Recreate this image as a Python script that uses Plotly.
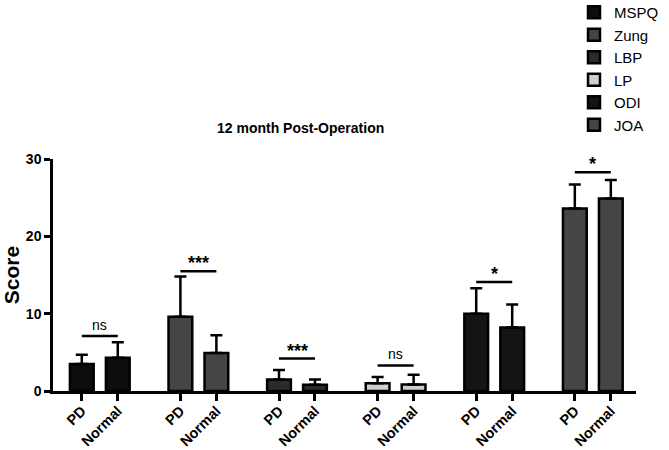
import plotly.graph_objects as go

measures = ["MSPQ", "Zung", "LBP", "LP", "ODI", "JOA"]
groups = ["PD", "Normal"]
means = {
    "MSPQ": [3.5, 4.3],
    "Zung": [9.6, 4.9],
    "LBP": [1.5, 0.8],
    "LP": [1.0, 0.85],
    "ODI": [10.0, 8.2],
    "JOA": [23.6, 24.9],
}
errors = {
    "MSPQ": [1.2, 2.0],
    "Zung": [5.2, 2.3],
    "LBP": [1.2, 0.7],
    "LP": [0.8, 1.25],
    "ODI": [3.3, 3.0],
    "JOA": [3.1, 2.4],
}
sig_labels = ["ns", "***", "***", "ns", "*", "*"]
sig_heights = [7.1, 15.5, 4.2, 3.3, 14.1, 28.3]
colors = ["#0d0d0d", "#454545", "#2b2b2b", "#cfcfcf", "#141414", "#454545"]

GROUP_STEP = 2.74
FONT = "Liberation Sans, Arial, sans-serif"

W, H = 669, 450
ML, MR, MT, MB = 53, 33, 159, 59
PW, PH = W - ML - MR, H - MT - MB

fig = go.Figure()
tickvals, ticktext = [], []
for i, m in enumerate(measures):
    xs = [i * GROUP_STEP + j for j in range(len(groups))]
    tickvals += xs
    ticktext += ["<b>%s</b>" % g for g in groups]
    fig.add_trace(go.Bar(
        x=xs, y=means[m], name=m, width=0.66,
        marker=dict(color=colors[i], line=dict(color="black", width=2.5)),
        error_y=dict(type="data", array=errors[m], arrayminus=[0, 0],
                     symmetric=False, color="black", thickness=2.5, width=6),
        legendgroup=m,
    ))
    fig.add_shape(type="line", x0=xs[0], x1=xs[1], y0=sig_heights[i], y1=sig_heights[i],
                  xref="x", yref="y", line=dict(color="black", width=2.5))
    lab = sig_labels[i]
    fig.add_annotation(x=(xs[0] + xs[1]) / 2, y=sig_heights[i], xref="x", yref="y",
                       text=lab if lab == "ns" else "<b>%s</b>" % lab,
                       showarrow=False, yanchor="bottom", yshift=1 if lab == "ns" else -4,
                       font=dict(family=FONT, size=14 if lab == "ns" else 18, color="black"))

fig.add_annotation(x=(300 - ML) / PW, y=(H - MB - 128) / PH, xref="paper", yref="paper",
                   xanchor="center", yanchor="middle", showarrow=False,
                   text="<b>12 month Post-Operation</b>",
                   font=dict(family=FONT, size=14, color="black"))

fig.update_layout(
    width=W, height=H,
    margin=dict(l=ML, r=MR, t=MT, b=MB, autoexpand=False),
    plot_bgcolor="white", paper_bgcolor="white",
    barmode="overlay",
    font=dict(family=FONT, color="black"),
    legend=dict(xref="paper", yref="paper", x=(574 - ML) / PW, y=(H - MB + 4) / PH,
                xanchor="left", yanchor="top", font=dict(size=15, family=FONT),
                tracegroupgap=0, traceorder="grouped", itemwidth=30,
                bgcolor="rgba(0,0,0,0)"),
    xaxis=dict(range=[-0.8, 5 * GROUP_STEP + 1 + 0.7], tickvals=tickvals, ticktext=ticktext,
               tickangle=-45, showline=True, linecolor="black", linewidth=2.5,
               ticks="outside", ticklen=7, tickwidth=2.5, tickcolor="black",
               ticklabelstandoff=-4,
               tickfont=dict(size=14.5, family=FONT), showgrid=False, zeroline=False),
    yaxis=dict(range=[0, 30], tickvals=[0, 10, 20, 30], ticktext=["<b>0</b>", "<b>10</b>", "<b>20</b>", "<b>30</b>"],
               showline=True, linecolor="black", linewidth=2.5,
               ticks="outside", ticklen=6, tickwidth=2.5, tickcolor="black",
               tickfont=dict(size=14, family=FONT), showgrid=False, zeroline=False,
               title=dict(text="<b>Score</b>", font=dict(size=21, family=FONT), standoff=6)),
)

fig.write_html("out.html", config={"displayModeBar": False},
               post_script="document.body.style.margin='0px';")
